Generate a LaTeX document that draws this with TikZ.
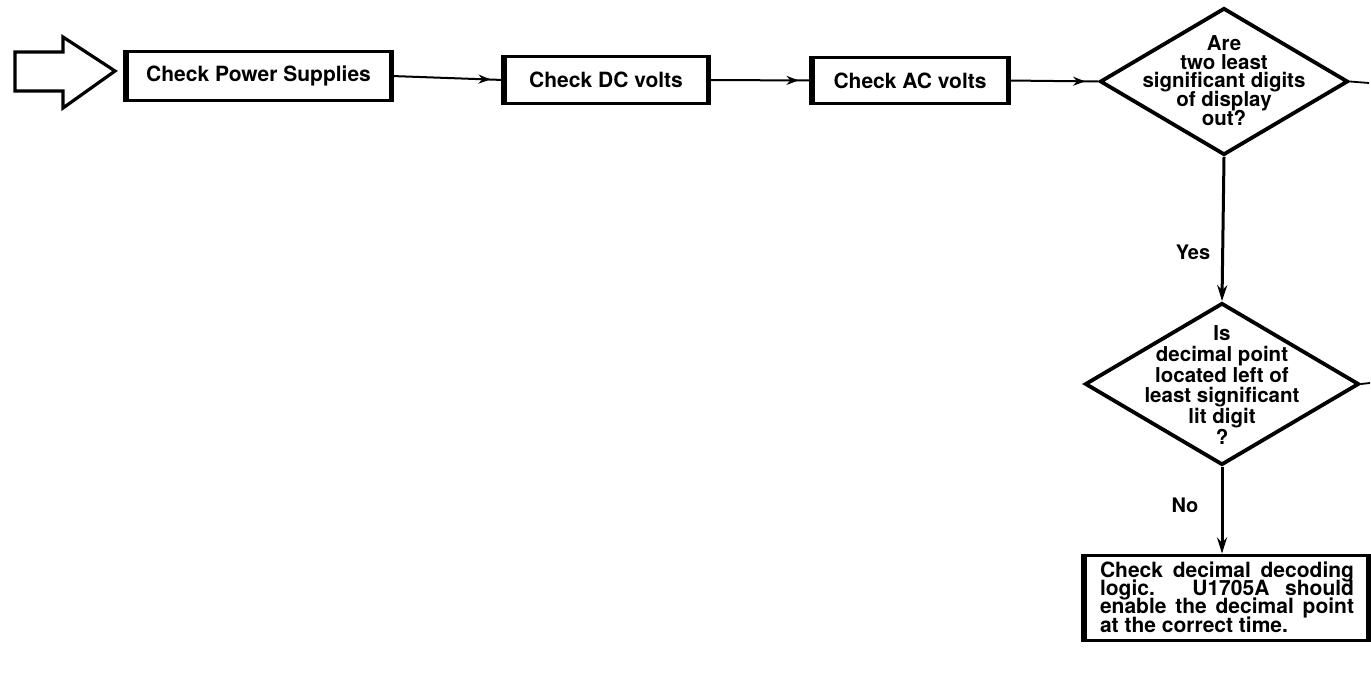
\documentclass[tikz,border=0pt]{standalone}
\usepackage{fontspec}
\setmainfont{TeX Gyre Heros}
\usetikzlibrary{shapes.geometric,arrows.meta,decorations.markings}
\newcommand{\tightlines}{\lineskiplimit-20pt\relax}
\tikzset{
  boxnode/.style={draw=black, line width=3pt, inner sep=0pt,
    font=\fontsize{21}{24}\selectfont\bfseries},
  dianode/.style={draw=black, line width=3.8pt, shape=diamond, inner sep=0pt},
  diatext/.style={align=center, inner sep=0pt,
    font=\fontsize{20.5}{18.8}\selectfont\bfseries\tightlines},
  lbl/.style={inner sep=0pt, font=\fontsize{20}{24}\selectfont\bfseries},
  flow/.style={line width=2pt, postaction={decorate},
    decoration={markings, mark=at position -13pt with {\arrow{Stealth[length=12pt,width=9pt]}}}},
  vflow/.style={line width=3pt, -{Stealth[length=16pt,width=10pt]}},
  stub/.style={line width=1.8pt},
  sidebar/.style={line width=5pt},
}
\newcommand{\jline}[1]{\makebox[254pt][s]{#1}}
\begin{document}
\begin{tikzpicture}[x=1pt,y=-1pt]
\useasboundingbox (0,0) rectangle (1371,677);
% entry arrow
\draw[line width=3.2pt, line join=miter] (15,52) -- (63,52) -- (63,37) -- (115,71) -- (63,108) -- (63,91) -- (15,91) -- cycle;
% boxes
\node[boxnode, minimum width=263pt, minimum height=48pt] (b1) at (258.5,76) {Check Power Supplies};
\node[boxnode, minimum width=202pt, minimum height=46pt] (b2) at (606,80) {Check DC volts};
\node[boxnode, minimum width=194pt, minimum height=45pt] (b3) at (910,80.5) {Check AC volts};
% diamonds
\node[dianode, minimum width=248pt, minimum height=147pt] (d1) at (1224,81.5) {};
\node[diatext] (t1) at (1224,80.5) {Are\\two least\\significant digits\\of display\\out?};
\node[dianode, minimum width=274pt, minimum height=162pt] (d2) at (1222,384) {};
\node[diatext, font=\fontsize{20.5}{20.8}\selectfont\bfseries\tightlines] (t2) at (1222,385) {Is\\decimal point\\located left of\\least significant\\lit digit\\?};
% final box
\node[boxnode, minimum width=282pt, minimum height=85pt] (b4) at (1226,597.5) {};
\node[inner sep=0pt, align=left,
  font=\fontsize{21}{18.4}\selectfont\bfseries\tightlines] (t4) at (1227,597)
  {\jline{Check decimal decoding}\\\jline{logic. U1705A should}\\\jline{enable the decimal point}\\\makebox[254pt][l]{at the correct time.}};
% thick sides of boxes
\foreach \b in {b1,b2,b3,b4} {
  \draw[sidebar] (\b.north west) -- (\b.south west);
  \draw[sidebar] (\b.north east) -- (\b.south east);
}
% labels
\node[lbl] (yes) at (1193,252) {Yes};
\node[lbl] (no) at (1185,505) {No};
% connectors
\draw[flow] (b1.east) -- (b2.west);
\draw[flow] (b2.east) -- (b3.west);
\draw[flow] (b3.east) -- (d1.west);
\draw[vflow] (d1.south) -- (d2.north);
\draw[vflow] (d2.south) -- (d2.south |- b4.north);
\coordinate (s1) at (1369,83);
\coordinate (s2) at (1370,383);
\draw[stub] (d1.east) -- (s1);
\draw[stub] (d2.east) -- (s2);
\end{tikzpicture}
\end{document}
